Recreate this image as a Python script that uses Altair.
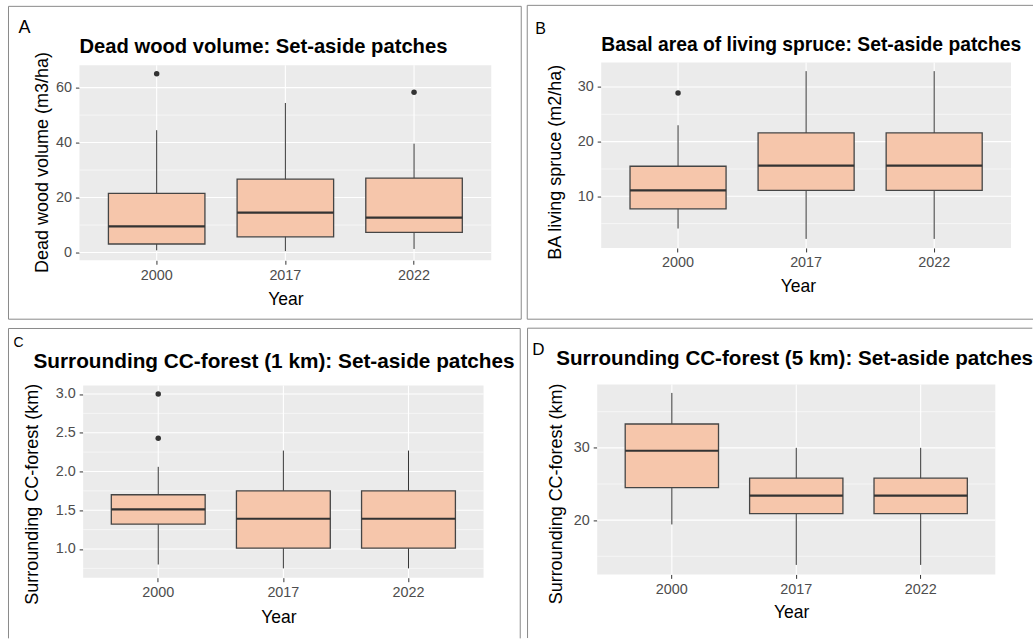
import altair as alt
import pandas as pd

YEARS = ["2000", "2017", "2022"]

# ---- Panel A: Dead wood volume ----
A_LO = [0.8, 0.5, 1.3]
A_Q1 = [3.1, 5.7, 7.3]
A_MED = [9.5, 14.5, 12.7]
A_Q3 = [21.5, 26.7, 27.1]
A_HI = [44.5, 54.4, 39.6]
A_OUT_YEAR = ["2000", "2022"]
A_OUT_VAL = [65.0, 58.3]
A_TICKS = [0, 20, 40, 60]
A_MINOR = [10, 30, 50]

# ---- Panel B: Basal area of living spruce ----
B_LO = [4.1, 2.2, 2.2]
B_Q1 = [7.7, 11.1, 11.1]
B_MED = [11.1, 15.6, 15.6]
B_Q3 = [15.5, 21.6, 21.6]
B_HI = [23.0, 32.9, 32.9]
B_OUT_YEAR = ["2000"]
B_OUT_VAL = [28.9]
B_TICKS = [10, 20, 30]
B_MINOR = [5, 15, 25]

# ---- Panel C: Surrounding CC-forest (1 km) ----
C_LO = [0.80, 0.75, 0.75]
C_Q1 = [1.32, 1.01, 1.01]
C_MED = [1.51, 1.39, 1.39]
C_Q3 = [1.70, 1.75, 1.75]
C_HI = [2.06, 2.27, 2.27]
C_OUT_YEAR = ["2000", "2000"]
C_OUT_VAL = [3.0, 2.43]
C_TICKS = [1.0, 1.5, 2.0, 2.5, 3.0]
C_MINOR = [0.75, 1.25, 1.75, 2.25, 2.75]

# ---- Panel D: Surrounding CC-forest (5 km) ----
D_LO = [19.4, 13.8, 13.8]
D_Q1 = [24.5, 20.9, 20.9]
D_MED = [29.6, 23.4, 23.4]
D_Q3 = [33.3, 25.8, 25.8]
D_HI = [37.6, 30.0, 30.0]
D_OUT_YEAR = []
D_OUT_VAL = []
D_TICKS = [20, 30]
D_MINOR = [15, 25, 35]

FONT = "Liberation Sans"
FILL = "#F6C6AB"
PANEL_BG = "#EBEBEB"
DARK = "#333333"
FRAME = "#8A8A8A"

# layout (absolute page pixels) for each panel
PANELS = [
    dict(letter="A", title="Dead wood volume: Set-aside patches",
         ytitle="Dead wood volume (m3/ha)",
         lo=A_LO, q1=A_Q1, med=A_MED, q3=A_Q3, hi=A_HI,
         oy=A_OUT_YEAR, ov=A_OUT_VAL, ticks=A_TICKS, minor=A_MINOR,
         ydom=[-2.8, 68.1], fmt="d",
         x0=79, y0=65, w=412, h=195, ext_top=2.7, ext_left=0,
         frame=dict(L=8, T=6, R=521, B=319),
         let_x=18, let_y=33, let_size=18,
         tit_x=79, tit_y=52.3, tit_size=20.2,
         yt_x=41.7, yt_y=161.7, xt_x=285, xt_y=304),
    dict(letter="B", title="Basal area of living spruce: Set-aside patches",
         ytitle="BA living spruce (m2/ha)",
         lo=B_LO, q1=B_Q1, med=B_MED, q3=B_Q3, hi=B_HI,
         oy=B_OUT_YEAR, ov=B_OUT_VAL, ticks=B_TICKS, minor=B_MINOR,
         ydom=[0.55, 34.46], fmt="d",
         x0=601, y0=62.3, w=410, h=185.4, ext_top=0, ext_left=0,
         frame=dict(L=527, T=5, R=None, B=319),
         let_x=535, let_y=33.3, let_size=16,
         tit_x=601, tit_y=50.7, tit_size=19.3,
         yt_x=555, yt_y=161.5, xt_x=797.7, xt_y=291.5),
    dict(letter="C", title="Surrounding CC-forest (1 km): Set-aside patches",
         ytitle="Surrounding CC-forest (km)",
         lo=C_LO, q1=C_Q1, med=C_MED, q3=C_Q3, hi=C_HI,
         oy=C_OUT_YEAR, ov=C_OUT_VAL, ticks=C_TICKS, minor=C_MINOR,
         ydom=[0.63, 3.11], fmt=".1f",
         x0=82.7, y0=385, w=400.6, h=192.3, ext_top=0, ext_left=3.7,
         frame=dict(L=8, T=328, R=520, B=None),
         let_x=13, let_y=347, let_size=14,
         tit_x=33, tit_y=367.7, tit_size=20.8,
         yt_x=31.7, yt_y=493.3, xt_x=278, xt_y=622.5),
    dict(letter="D", title="Surrounding CC-forest (5 km): Set-aside patches",
         ytitle="Surrounding CC-forest (km)",
         lo=D_LO, q1=D_Q1, med=D_MED, q3=D_Q3, hi=D_HI,
         oy=D_OUT_YEAR, ov=D_OUT_VAL, ticks=D_TICKS, minor=D_MINOR,
         ydom=[12.49, 38.77], fmt="d",
         x0=597.7, y0=384.3, w=398.3, h=190, ext_top=0, ext_left=0,
         frame=dict(L=528, T=328, R=None, B=None),
         let_x=532.7, let_y=355, let_size=17,
         tit_x=556.7, tit_y=365, tit_size=20.6,
         yt_x=556.7, yt_y=493.3, xt_x=791.7, xt_y=617.5),
]

PAGE_R = 1033.0
PAGE_B = 638.0

ONE = pd.DataFrame({"k": [0]})


def frame_rule(x1, x2, y1, y2):
    return alt.Chart(ONE).mark_rule(color=FRAME, strokeWidth=1).encode(
        x=alt.value(x1), x2=alt.value(x2), y=alt.value(y1), y2=alt.value(y2))


def make_panel(p):
    x0, y0, w, h = p["x0"], p["y0"], p["w"], p["h"]
    et, el = p["ext_top"], p["ext_left"]
    vx, vy = x0 - el, y0 - et          # view origin (absolute)
    W, H = w + el, h + et              # view size
    ylo, yhi = p["ydom"]
    yhi_ext = yhi + et * (yhi - ylo) / h

    if el > 0:
        xscale = alt.Scale(type="band", domain=YEARS, paddingInner=0.25,
                           paddingOuter=0.225, range=[el, el + w])
    else:
        xscale = alt.Scale(type="band", domain=YEARS, paddingInner=0.25,
                           paddingOuter=0.225)
    yscale = alt.Scale(domain=[ylo, yhi_ext], nice=False, zero=False)

    xaxis = alt.Axis(
        title="Year", labelAngle=0, labelFontSize=14.4, labelColor="#4D4D4D",
        labelPadding=4, tickColor=DARK, tickSize=4, tickWidth=1, domain=False,
        grid=False, bandPosition=0.5,
        titleFontSize=17.5, titleFontWeight="normal", titleColor="black",
        titleX=p["xt_x"] - vx, titleY=p["xt_y"] - (y0 + h),
        titleAlign="center", titleBaseline="alphabetic", titleAngle=0)
    yaxis_kw = dict(
        title=p["ytitle"], values=p["ticks"], format=p["fmt"], labelFontSize=14.4,
        labelColor="#4D4D4D", labelPadding=4, tickColor=DARK, tickSize=4, tickWidth=1,
        domain=False, grid=False,
        titleFontSize=18, titleFontWeight="normal", titleColor="black",
        titleX=p["yt_x"] - x0, titleY=p["yt_y"] - vy,
        titleAlign="center", titleBaseline="middle", titleAngle=270)
    if el > 0:
        yaxis_kw["offset"] = -el
    yaxis = alt.Axis(**yaxis_kw)

    X = alt.X("year:N", scale=xscale, axis=xaxis, sort=YEARS)

    # panel background and grid
    bg = alt.Chart(ONE).mark_rect(fill=PANEL_BG).encode(
        x=alt.value(el), x2=alt.value(el + w), y=alt.value(et), y2=alt.value(et + h))
    minor = alt.Chart(pd.DataFrame({"v": p["minor"]})).mark_rule(
        color="white", strokeWidth=0.55).encode(
        y=alt.Y("v:Q", scale=yscale, axis=yaxis), x=alt.value(el), x2=alt.value(el + w))
    major = alt.Chart(pd.DataFrame({"v": p["ticks"]})).mark_rule(
        color="white", strokeWidth=1.1).encode(
        y=alt.Y("v:Q", scale=yscale, axis=yaxis), x=alt.value(el), x2=alt.value(el + w))
    vgrid = alt.Chart(pd.DataFrame({"year": YEARS})).mark_rule(
        color="white", strokeWidth=1.1).encode(
        x=X, y=alt.value(et), y2=alt.value(et + h))

    box_df = pd.DataFrame({"year": YEARS, "lo": p["lo"], "q1": p["q1"],
                           "med": p["med"], "q3": p["q3"], "hi": p["hi"]})
    base = alt.Chart(box_df)
    whisk = base.mark_rule(color=DARK, strokeWidth=1).encode(
        x=X, y=alt.Y("lo:Q", scale=yscale, axis=yaxis), y2="hi:Q")
    box = base.mark_bar(fill=FILL, stroke="#454545", strokeWidth=1.3).encode(
        x=X, y=alt.Y("q1:Q", scale=yscale, axis=yaxis), y2="q3:Q")
    med = base.mark_bar(fill=DARK, stroke=DARK, strokeWidth=2.2).encode(
        x=X, y=alt.Y("med:Q", scale=yscale, axis=yaxis), y2="med:Q")
    layers = [bg, minor, major, vgrid, whisk, box, med]
    if p["ov"]:
        out = alt.Chart(pd.DataFrame({"year": p["oy"], "val": p["ov"]})).mark_circle(
            color=DARK, size=30, opacity=1).encode(
            x=X, y=alt.Y("val:Q", scale=yscale, axis=yaxis))
        layers.append(out)

    # frame (decoration around the panel)
    f = p["frame"]
    L = f["L"] - vx
    T = f["T"] - vy
    R = (f["R"] if f["R"] is not None else PAGE_R) - vx
    B = (f["B"] if f["B"] is not None else PAGE_B) - vy
    layers.append(frame_rule(L, R, T, T))
    layers.append(frame_rule(L, L, T, B))
    if f["B"] is not None:
        layers.append(frame_rule(L, R, B, B))
    if f["R"] is not None:
        layers.append(frame_rule(R, R, T, B))

    letter = alt.Chart(ONE).mark_text(
        align="left", baseline="alphabetic", font=FONT, fontSize=p["let_size"],
        color="black").encode(
        x=alt.value(p["let_x"] - vx), y=alt.value(p["let_y"] - vy),
        text=alt.value(p["letter"]))
    title = alt.Chart(ONE).mark_text(
        align="left", baseline="alphabetic", font=FONT, fontSize=p["tit_size"],
        fontWeight="bold", color="black").encode(
        x=alt.value(p["tit_x"] - vx), y=alt.value(p["tit_y"] - vy),
        text=alt.value(p["title"]))
    layers += [letter, title]

    return alt.layer(*layers).properties(width=W, height=H)


panels = [make_panel(p) for p in PANELS]

chart = alt.concat(
    *panels, columns=2, spacing={"row": 7, "column": 4}, align="none", bounds="full"
).properties(
    padding={"left": 7.5, "top": 4.5, "right": 0, "bottom": 0},
    background="white",
).configure_view(
    fill="white", strokeWidth=0
).configure_axis(
    labelFont=FONT, titleFont=FONT
)

chart.save("out.html", embed_options={"renderer": "svg", "actions": False})
